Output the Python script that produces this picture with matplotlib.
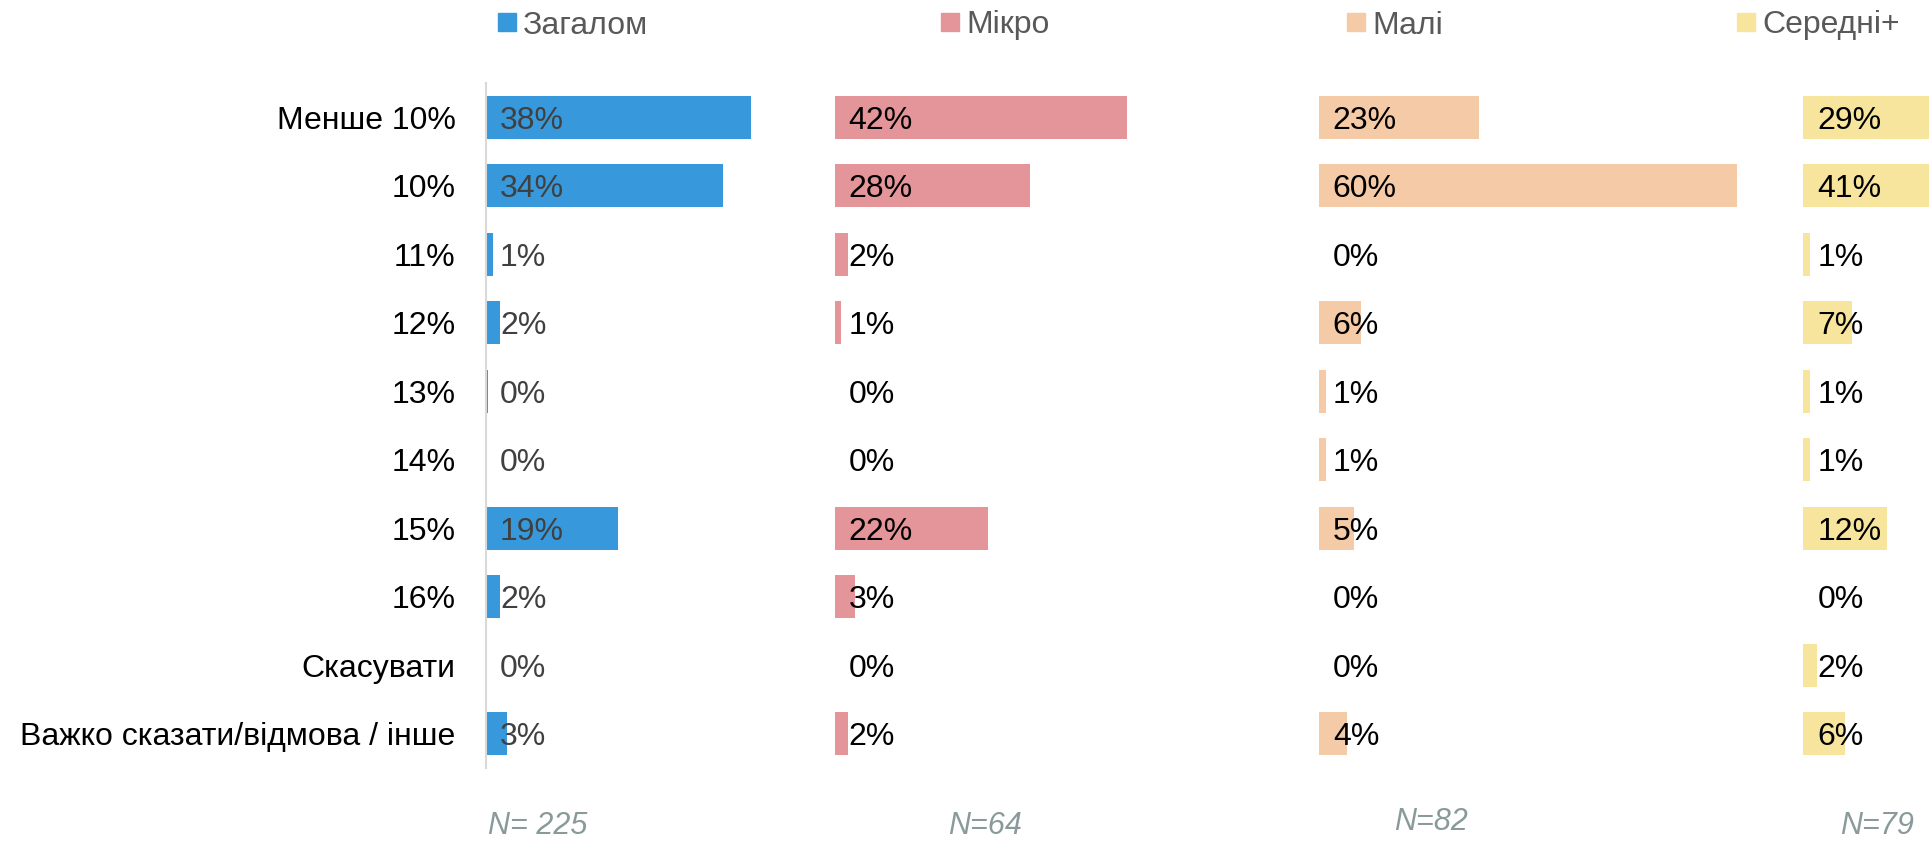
import numpy as np
import matplotlib.pyplot as plt
from matplotlib.patches import Rectangle

categories = ['Менше 10%', '10%', '11%', '12%', '13%', '14%', '15%', '16%',
              'Скасувати', 'Важко сказати/відмова / інше']
series_names = ['Загалом', 'Мікро', 'Малі', 'Середні+']
zagalom = [38, 34, 1, 2, 0.3, 0, 19, 2, 0, 3]
mikro = [42, 28, 2, 1, 0, 0, 22, 3, 0, 2]
mali = [23, 60, 0, 6, 1, 1, 5, 0, 0, 4]
seredni = [29, 41, 1, 7, 1, 1, 12, 0, 2, 6]
n_labels = ['N= 225', 'N=64', 'N=82', 'N=79']

colors = ['#3799db', '#e49599', '#f5caa6', '#f8e59d']
label_colors = ['#404040', 'black', 'black', 'black']
offsets = [0, 50, 119.5, 189]

plt.rcParams['font.family'] = ['Liberation Sans', 'DejaVu Sans']

W, H = 1929, 842
fig = plt.figure(figsize=(W / 100, H / 100), dpi=100)
ax = fig.add_axes([486 / W, 1 - 768 / H, 1 - 486 / W, (768 - 83) / H])

y = np.arange(len(categories))
for k, vals in enumerate([zagalom, mikro, mali, seredni]):
    ax.barh(y, vals, left=offsets[k], height=0.63, color=colors[k], clip_on=True)
    for i, v in enumerate(vals):
        ax.text(offsets[k] + 2.0, y[i], '{:.0f}%'.format(v), va='center_baseline',
                ha='left', fontsize=23, color=label_colors[k], clip_on=True)

ax.set_xlim(0, (W - 486) / 6.97)
ax.set_ylim(len(categories) - 0.5, -0.5)
ax.set_yticks(y)
ax.set_yticklabels(categories, fontsize=23)
ax.tick_params(axis='y', length=0, pad=22)
ax.set_xticks([])
for s in ['top', 'right', 'bottom']:
    ax.spines[s].set_visible(False)
ax.spines['left'].set_color('#d9d9d9')
ax.spines['left'].set_linewidth(1.5)

# legend
leg_sq = [498, 941, 1347, 1737]
for k, name in enumerate(series_names):
    fig.patches.append(Rectangle((leg_sq[k] / W, 1 - 31 / H), 18 / W, 18 / H,
                                 transform=fig.transFigure, color=colors[k]))
    fig.text((leg_sq[k] + 25) / W, 1 - 22 / H, name, fontsize=23, color='#595959',
             va='center_baseline', ha='left')

# sample sizes
n_x = [488, 948, 1394, 1840]
n_y = [822, 822, 818, 822]
for k, t in enumerate(n_labels):
    fig.text(n_x[k] / W, 1 - n_y[k] / H, t, fontsize=22, style='italic',
             color='#8a9a9a', va='center_baseline', ha='left')

fig.savefig('out.png', dpi=100)
